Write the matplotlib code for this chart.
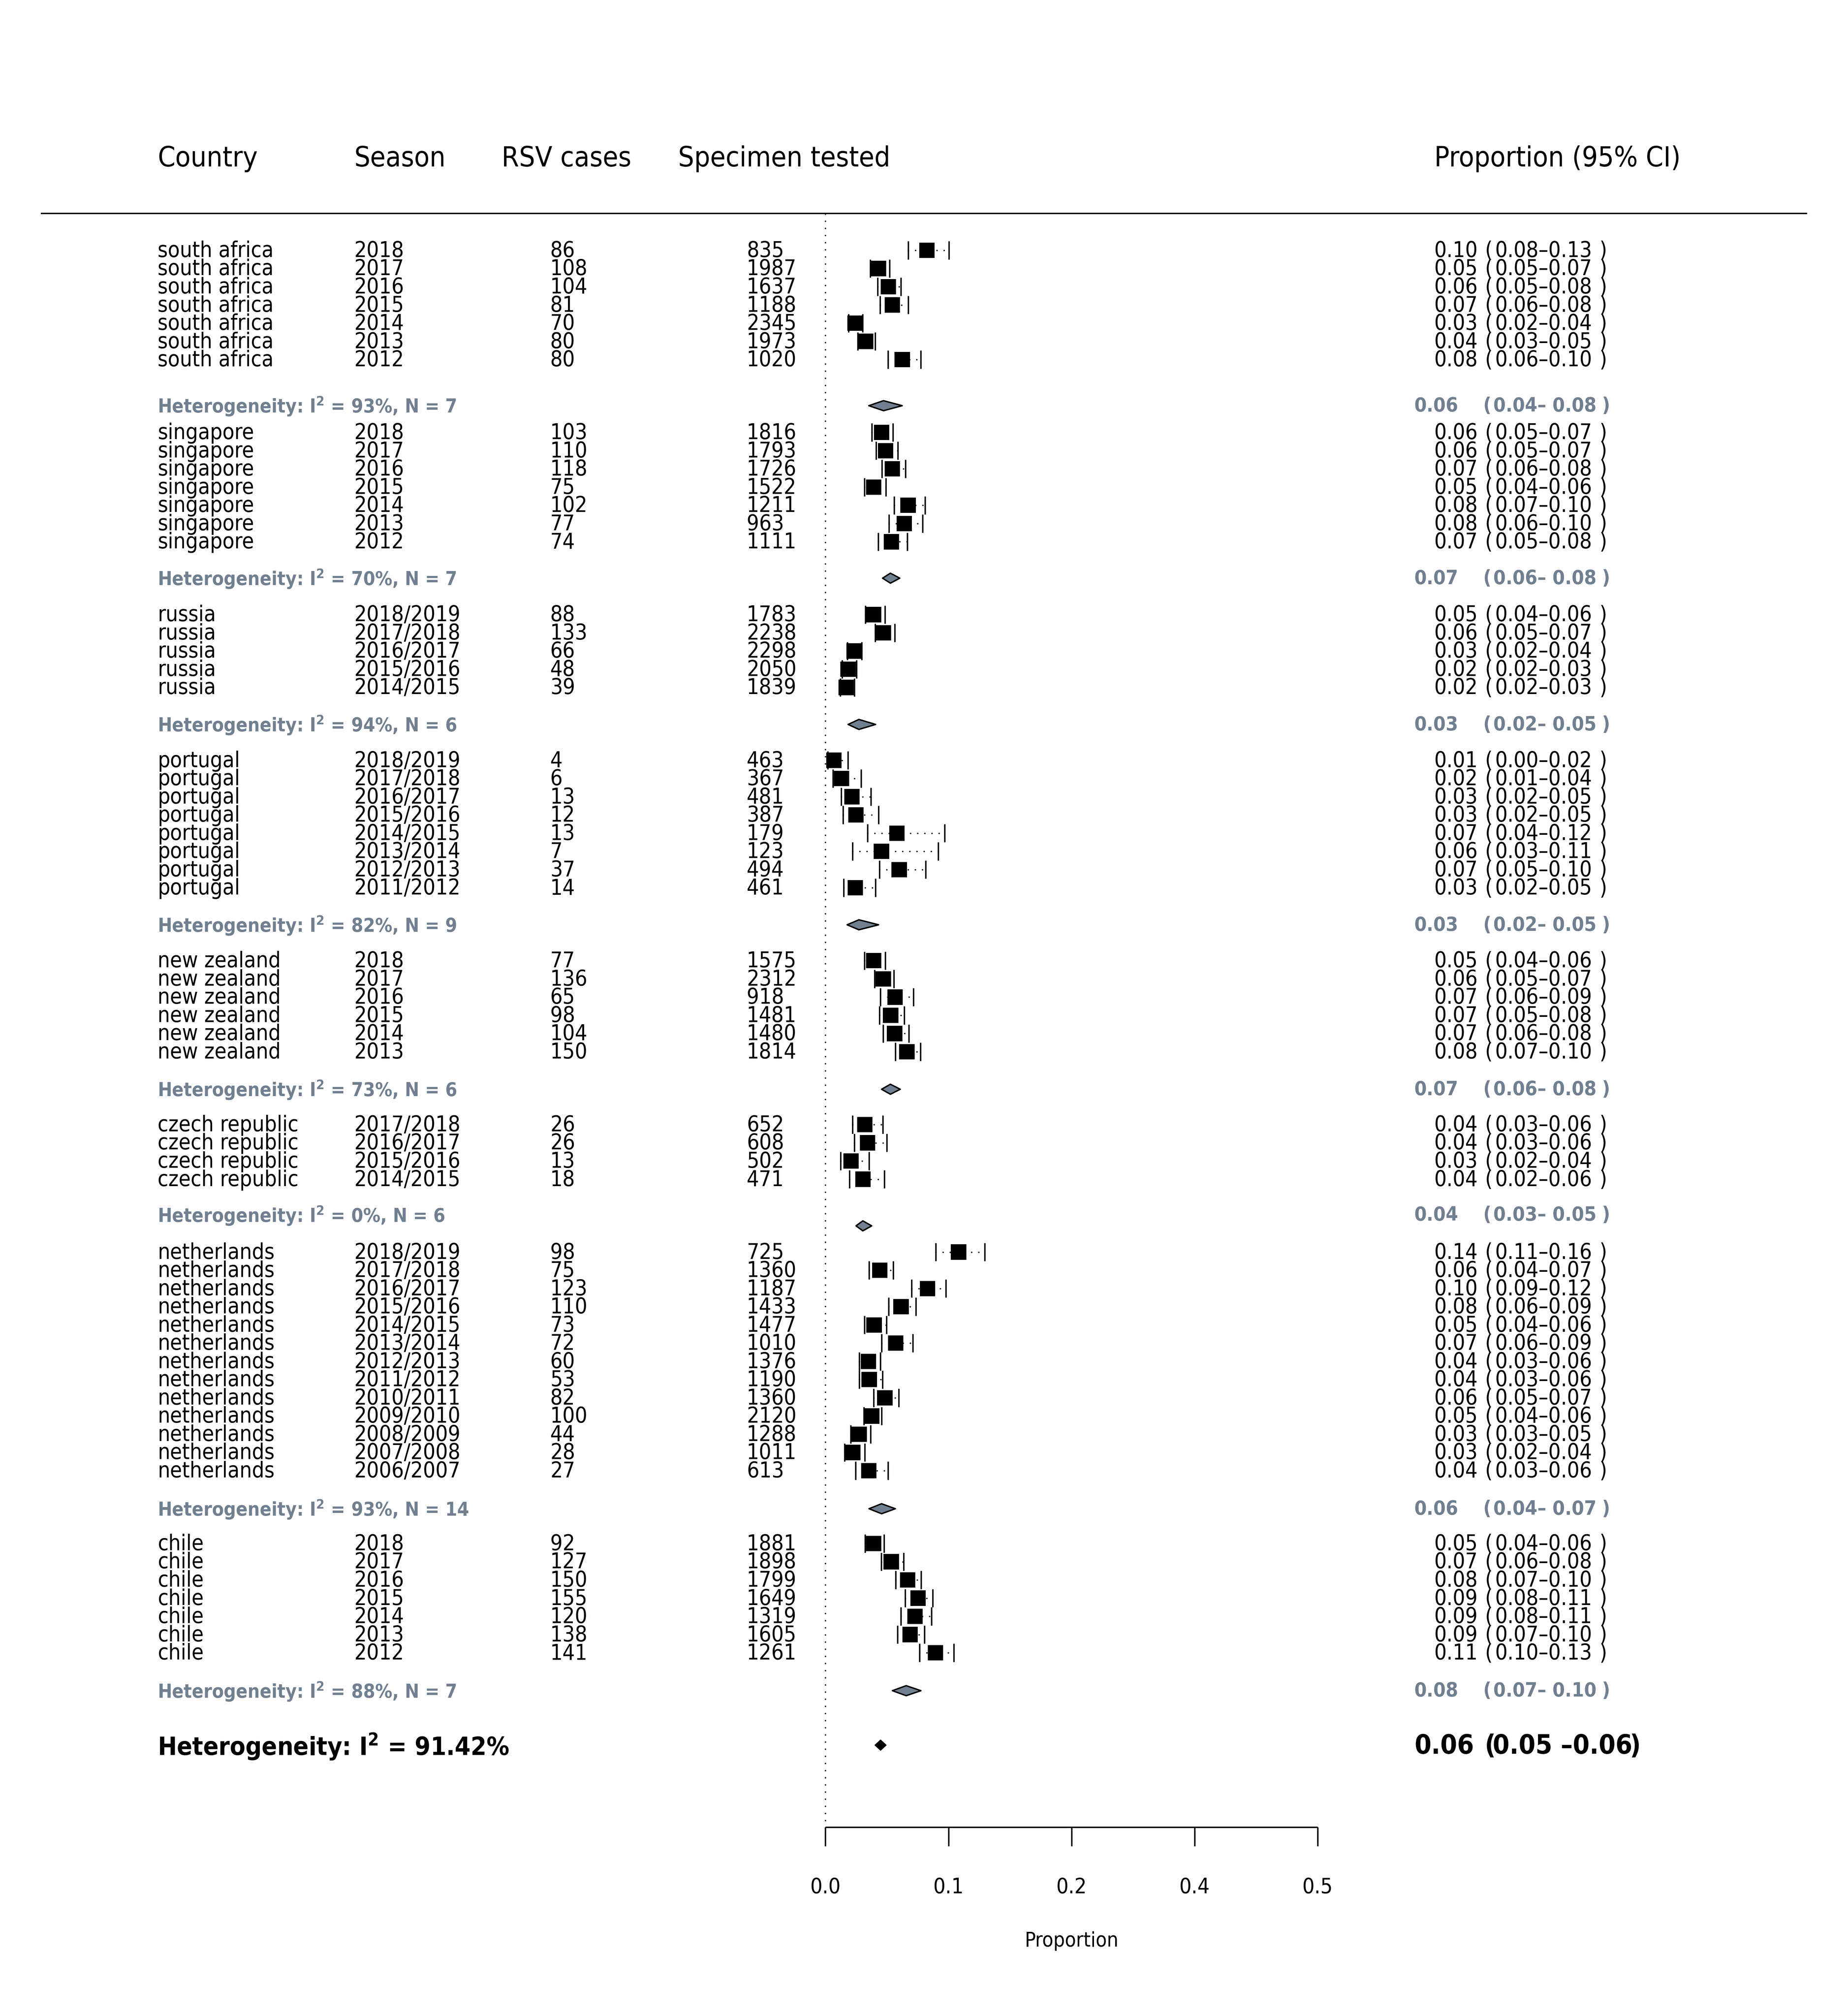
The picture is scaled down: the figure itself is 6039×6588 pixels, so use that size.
#!/usr/bin/env python3
"""Forest plot of RSV positivity proportions by country and season."""

import matplotlib
matplotlib.use("Agg")
import matplotlib.pyplot as plt
from matplotlib.patches import Polygon, Rectangle
from matplotlib.transforms import blended_transform_factory

# --- data ---------------------------------------------------------------
groups = ["south africa", "singapore", "russia", "portugal",
          "new zealand", "czech republic", "netherlands", "chile"]

seasons = [
    ["2018", "2017", "2016", "2015", "2014", "2013", "2012"],
    ["2018", "2017", "2016", "2015", "2014", "2013", "2012"],
    ["2018/2019", "2017/2018", "2016/2017", "2015/2016", "2014/2015"],
    ["2018/2019", "2017/2018", "2016/2017", "2015/2016", "2014/2015",
     "2013/2014", "2012/2013", "2011/2012"],
    ["2018", "2017", "2016", "2015", "2014", "2013"],
    ["2017/2018", "2016/2017", "2015/2016", "2014/2015"],
    ["2018/2019", "2017/2018", "2016/2017", "2015/2016", "2014/2015",
     "2013/2014", "2012/2013", "2011/2012", "2010/2011", "2009/2010",
     "2008/2009", "2007/2008", "2006/2007"],
    ["2018", "2017", "2016", "2015", "2014", "2013", "2012"],
]

rsv_cases = [
    [86, 108, 104, 81, 70, 80, 80],
    [103, 110, 118, 75, 102, 77, 74],
    [88, 133, 66, 48, 39],
    [4, 6, 13, 12, 13, 7, 37, 14],
    [77, 136, 65, 98, 104, 150],
    [26, 26, 13, 18],
    [98, 75, 123, 110, 73, 72, 60, 53, 82, 100, 44, 28, 27],
    [92, 127, 150, 155, 120, 138, 141],
]

specimens = [
    [835, 1987, 1637, 1188, 2345, 1973, 1020],
    [1816, 1793, 1726, 1522, 1211, 963, 1111],
    [1783, 2238, 2298, 2050, 1839],
    [463, 367, 481, 387, 179, 123, 494, 461],
    [1575, 2312, 918, 1481, 1480, 1814],
    [652, 608, 502, 471],
    [725, 1360, 1187, 1433, 1477, 1010, 1376, 1190, 1360, 2120, 1288, 1011, 613],
    [1881, 1898, 1799, 1649, 1319, 1605, 1261],
]

prop = [
    [0.103, 0.054, 0.064, 0.068, 0.030, 0.041, 0.078],
    [0.057, 0.061, 0.068, 0.049, 0.084, 0.080, 0.067],
    [0.049, 0.059, 0.029, 0.023, 0.021],
    [0.0086, 0.0163, 0.027, 0.031, 0.0726, 0.0569, 0.0749, 0.0304],
    [0.0489, 0.0588, 0.0708, 0.0662, 0.0703, 0.0827],
    [0.0399, 0.0428, 0.0259, 0.0382],
    [0.1352, 0.0551, 0.1036, 0.0768, 0.0494, 0.0713, 0.0436, 0.0445,
     0.0603, 0.0472, 0.0342, 0.0277, 0.044],
    [0.0489, 0.0669, 0.0834, 0.094, 0.091, 0.086, 0.1118],
]

ci_low = [
    [0.084, 0.0456, 0.053, 0.0554, 0.0234, 0.0328, 0.0637],
    [0.0472, 0.0514, 0.0574, 0.0397, 0.0699, 0.0644, 0.0535],
    [0.0405, 0.0506, 0.0222, 0.0171, 0.0152],
    [0.0024, 0.0076, 0.0161, 0.018, 0.0429, 0.0276, 0.0549, 0.0184],
    [0.0396, 0.0498, 0.0559, 0.0549, 0.0585, 0.071],
    [0.0276, 0.0295, 0.0154, 0.0243],
    [0.112, 0.0444, 0.0875, 0.0642, 0.0397, 0.0571, 0.0343, 0.0343,
     0.0489, 0.039, 0.0258, 0.0196, 0.0306],
    [0.0403, 0.0567, 0.0715, 0.0809, 0.0767, 0.0733, 0.0955],
]

ci_high = [
    [0.1256, 0.0653, 0.0765, 0.0841, 0.0378, 0.0506, 0.0967],
    [0.0686, 0.0736, 0.0813, 0.0615, 0.1013, 0.0988, 0.0831],
    [0.0606, 0.0703, 0.0369, 0.0315, 0.0294],
    [0.023, 0.0361, 0.0463, 0.0539, 0.1212, 0.1146, 0.1018, 0.0508],
    [0.0609, 0.0694, 0.0894, 0.0802, 0.0846, 0.0964],
    [0.0582, 0.0623, 0.0444, 0.06],
    [0.1619, 0.0688, 0.1222, 0.0919, 0.062, 0.0889, 0.0559, 0.0581,
     0.0745, 0.0572, 0.0458, 0.0401, 0.0637],
    [0.0597, 0.0793, 0.0972, 0.1091, 0.1077, 0.1007, 0.1305],
]

het_i2 = ["93%", "70%", "94%", "82%", "73%", "0%", "93%", "88%"]
het_n = [7, 7, 6, 9, 6, 6, 14, 7]
pool_est = [0.059, 0.066, 0.034, 0.034, 0.066, 0.038, 0.057, 0.082]
pool_low = [0.044, 0.058, 0.023, 0.022, 0.057, 0.031, 0.0442, 0.068]
pool_high = [0.078, 0.0755, 0.051, 0.054, 0.076, 0.047, 0.071, 0.097]

overall_i2 = "91.42%"
overall_est, overall_low, overall_high = 0.056, 0.050, 0.062

tick_pos = [0.0, 0.125, 0.25, 0.375, 0.5]
tick_labels = ["0.0", "0.1", "0.2", "0.4", "0.5"]

headers = ["Country", "Season", "RSV cases", "Specimen tested", "Proportion (95% CI)"]

# --- layout (pixels of the 6601 x 7201 reference canvas, rows of 65 px) --
W, H = 6601, 7201
SAVE_DPI = 91.5                       # keeps the png under 40 Mpx
X0_PX, UNIT_PX = 2948, 3516          # x of proportion 0 and px per unit
ROW0_PX, ROW_PX = 895, 65.05         # y of first study row, row height

group_start = [0, 10, 20, 28, 39, 48, 55, 71]
diamond_row = [8.53, 18.0, 26.03, 37.03, 46.06, 53.56, 69.09, 79.08]
het_text_row = [8.42, 17.9, 25.93, 36.93, 45.96, 52.85, 68.99, 78.98]
overall_row = 82.07
TXT_SHIFT = -0.1

GREY = "#708090"
LW = 3.6   # ~5 px

FAM = "DejaVu Sans"
STRETCH = "condensed"

fig = plt.figure(figsize=(W / 100, H / 100), dpi=100)
ax = fig.add_axes([0, 0, 1, 1])
ax.set_xlim(-X0_PX / UNIT_PX, (W - X0_PX) / UNIT_PX)
ax.set_ylim((H - ROW0_PX) / ROW_PX, -ROW0_PX / ROW_PX)
ax.axis("off")
tr = blended_transform_factory(fig.transFigure, ax.transData)


def txt(xpx, row, s, size=56, weight="normal", color="black", ha="left"):
    ax.text(xpx / W, row, s, transform=tr, fontsize=size, fontweight=weight,
            color=color, ha=ha, va="center_baseline", family=FAM,
            fontstretch=STRETCH)


dots = (0, (0.1, 5))

# header
header_x = [563, 1265, 1791, 2422, 5122]
for hx, h in zip(header_x, headers):
    txt(hx, -5.2, h, size=72)
ax.plot([145 / W, 6454 / W], [-2.03, -2.03], transform=tr, color="black",
        lw=LW, solid_capstyle="butt")

# reference line at 0
ax.plot([0, 0], [-2.0, 86.55], color="black", lw=LW, ls=dots,
        dash_capstyle="round", zorder=1)

box_w = 55 / UNIT_PX
box_h = 55 / ROW_PX

for g, name in enumerate(groups):
    for i in range(len(seasons[g])):
        y = group_start[g] + i
        ty = y + TXT_SHIFT
        p, lo, hi = prop[g][i], ci_low[g][i], ci_high[g][i]
        txt(563, ty, name)
        txt(1265, ty, seasons[g][i])
        txt(1965, ty, str(rsv_cases[g][i]))
        txt(2667, ty, str(specimens[g][i]))
        txt(5122, ty, f"{p:.2f}")
        txt(5303, ty, "(")
        txt(5340, ty, f"{lo:.2f}\u2013{hi:.2f}")
        txt(5712, ty, ")")

        ax.plot([lo, hi], [y, y], color="black", lw=LW, ls=dots,
                dash_capstyle="round", zorder=2)
        for xe in (lo, hi):
            ax.plot([xe, xe], [y - 0.5, y + 0.5], color="black", lw=LW,
                    solid_capstyle="butt", zorder=2)
        ax.add_patch(Rectangle((p - box_w / 2, y - box_h / 2), box_w, box_h,
                               facecolor="black", edgecolor="none", zorder=3))

    # subgroup summary
    yd = diamond_row[g]
    ax.add_patch(Polygon([(pool_low[g], yd), (pool_est[g], yd - 0.275),
                          (pool_high[g], yd), (pool_est[g], yd + 0.275)],
                         closed=True, facecolor=GREY, edgecolor="black",
                         lw=LW, joinstyle="round", zorder=3))
    yt = het_text_row[g]
    txt(563, yt, f"Heterogeneity: $\\mathregular{{I^2}}$ = {het_i2[g]}, N = {het_n[g]}",
        size=49, weight="bold", color=GREY)
    txt(5051, yt, f"{pool_est[g]:.2f}", size=51, weight="bold", color=GREY)
    txt(5297, yt, "(", size=51, weight="bold", color=GREY)
    txt(5333, yt, f"{pool_low[g]:.2f}\u2013 {pool_high[g]:.2f}", size=51,
        weight="bold", color=GREY)
    txt(5721, yt, ")", size=51, weight="bold", color=GREY)

# overall summary
ax.add_patch(Polygon([(overall_low, overall_row), (overall_est, overall_row - 0.3),
                      (overall_high, overall_row), (overall_est, overall_row + 0.3)],
                     closed=True, facecolor="black", edgecolor="black",
                     lw=1.0, zorder=3))
oy = overall_row + TXT_SHIFT
txt(563, oy, f"Heterogeneity: $\\mathregular{{I^2}}$ = {overall_i2}", size=65,
    weight="bold")
txt(5052, oy, f"{overall_est:.2f}", size=69, weight="bold")
txt(5302, oy, "(", size=69, weight="bold")
txt(5331, oy, f"{overall_low:.2f} \u2013{overall_high:.2f}", size=69, weight="bold")
txt(5820, oy, ")", size=69, weight="bold")

# x axis
AX_ROW = 86.58
ax.plot([tick_pos[0], tick_pos[-1]], [AX_ROW, AX_ROW], color="black", lw=LW,
        solid_capstyle="butt")
ax.vlines(tick_pos, AX_ROW, AX_ROW + 1.03, color="black", lw=LW)
for tp, tl in zip(tick_pos, tick_labels):
    ax.text(tp, 89.75, tl, ha="center", va="center_baseline", fontsize=55,
            family=FAM, fontstretch=STRETCH)
ax.text(0.25, 92.7, "Proportion", ha="center", va="center_baseline",
        fontsize=52, family=FAM, fontstretch=STRETCH)

fig.savefig("out.png", dpi=SAVE_DPI, facecolor="white")
